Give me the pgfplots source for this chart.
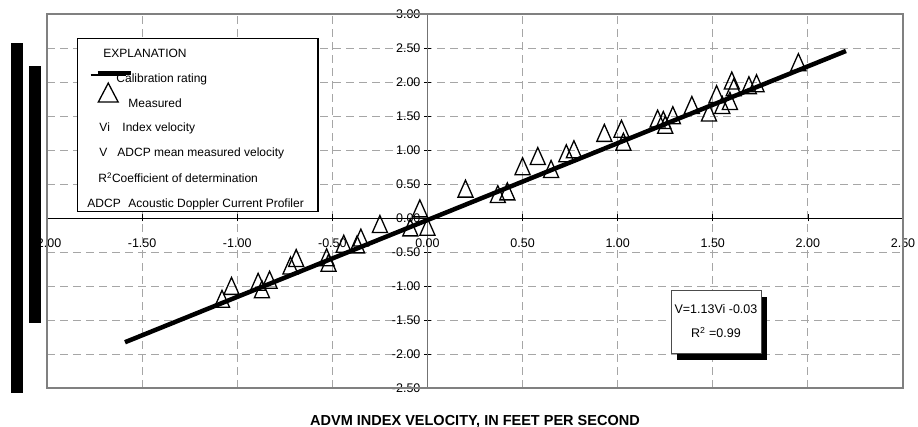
\documentclass[border=0pt]{standalone}
\usepackage{fontspec}
\setmainfont{Liberation Sans}
\usepackage{pgfplots}
\pgfplotsset{compat=1.18}
\usetikzlibrary{shadows}

\pgfplotsset{
  calline/.style={legend image code/.code={%
    \path (1pt,4pt)--(36pt,4pt);
    \draw[overlay,black,line width=4.5pt] (8pt,6pt)--(41pt,6pt);}},
}

\begin{document}
\begin{tikzpicture}
\begin{axis}[
  name=ax,
  scale only axis, width=856pt, height=374pt,
  xmin=-2, xmax=2.5, ymin=-2.5, ymax=3,
  axis lines=middle,
  axis line style={-},
  x axis line style={black, line width=0.8pt},
  y axis line style={black!55, line width=0.8pt},
  xtick={-2,-1.5,-1,-0.5,0,0.5,1,1.5,2,2.5},
  ytick={-2.5,-2,-1.5,-1,-0.5,0,0.5,1,1.5,2,2.5,3},
  hide obscured x ticks=false, hide obscured y ticks=false,
  tick align=center, major tick length=7pt,
  tick style={black, line width=0.6pt},
  grid=major,
  grid style={black!35, line width=0.8pt, dash pattern=on 8pt off 5pt},
  ticklabel style={font=\fontsize{12.5}{14}\selectfont},
  xticklabel style={yshift=-14pt},
  /pgf/number format/.cd, fixed, fixed zerofill, precision=2, assume math mode=true,
  /pgfplots/.cd,
  xlabel={ADVM INDEX VELOCITY, IN FEET PER SECOND},
  xlabel style={at={(rel axis cs:0.5,0)}, anchor=north, yshift=-24pt,
    font=\bfseries\fontsize{14.5}{16}\selectfont},
  clip=false,
  legend cell align=left,
  legend style={at={(rel axis cs:0.035,0.936)}, anchor=north west,
    draw=black, line width=1.5pt, fill=white,
    font=\fontsize{12}{14}\selectfont,
    inner xsep=12pt, inner ysep=1pt, row sep=10.5pt},
]
% outer frame of the plotting area
\draw[black!50, line width=1.2pt] (rel axis cs:0,0) rectangle (rel axis cs:1,1);

% legend rows
\addlegendimage{empty legend}
\addlegendentry{\rule{0pt}{16pt}\hspace*{-25pt}EXPLANATION}
\addlegendimage{calline}
\addlegendentry{\hspace*{-12pt}Calibration rating}
\addlegendimage{only marks, mark=triangle, mark size=11.5pt,
  mark options={black, line width=1.3pt, yscale=1.1, xshift=10pt, yshift=7pt, overlay}}
\addlegendentry{Measured}
\addlegendimage{empty legend}
\addlegendentry{\hspace*{-29pt}\makebox[23pt][l]{Vi}Index velocity}
\addlegendimage{empty legend}
\addlegendentry{\hspace*{-29pt}\makebox[18pt][l]{V}ADCP mean measured velocity}
\addlegendimage{empty legend}
\addlegendentry{\hspace*{-30pt}R\textsuperscript{2}Coefficient of determination\hspace*{4pt}}
\addlegendimage{empty legend}
\addlegendentry{\hspace*{-41pt}\makebox[41pt][l]{ADCP}Acoustic Doppler Current Profiler}

% calibration rating: V = 1.13 Vi - 0.03
\addplot[forget plot, black, line width=4.5pt] coordinates {(-1.59,-1.827) (2.20,2.456)};

% measured velocities
\addplot[forget plot, only marks, mark=triangle, mark size=8.7pt,
  mark options={black, line width=1.3pt, yscale=1.3}] coordinates {
(-1.08,-1.23) (-1.03,-1.04) (-0.89,-0.98) (-0.87,-1.09) (-0.83,-0.95)
(-0.72,-0.74) (-0.69,-0.63) (-0.53,-0.62) (-0.52,-0.70) (-0.44,-0.42)
(-0.37,-0.43) (-0.35,-0.33) (-0.25,-0.13) (-0.09,-0.18) (-0.04,0.10)
(0.00,-0.17) (0.20,0.39) (0.37,0.31) (0.42,0.35) (0.50,0.72)
(0.58,0.87) (0.65,0.68) (0.73,0.91) (0.77,0.97) (0.93,1.21)
(1.02,1.27) (1.03,1.08) (1.21,1.42) (1.24,1.40) (1.25,1.33)
(1.29,1.47) (1.39,1.62) (1.48,1.51) (1.52,1.78) (1.55,1.62)
(1.59,1.68) (1.60,1.98) (1.61,1.88) (1.69,1.91) (1.73,1.94)
(1.95,2.25)
};

% regression statistics
\node[draw=black!70, line width=0.6pt, fill=white,
  minimum width=90pt, minimum height=63pt, align=center,
  font=\fontsize{12.5}{14}\selectfont,
  drop shadow={opacity=1, fill=black, shadow xshift=6pt, shadow yshift=-7pt}]
  at (rel axis cs:0.7815,0.1778) {V=1.13Vi -0.03\\[10pt]R\textsuperscript{2} =0.99};
\end{axis}

% vertical bars at the left margin
\fill[black] ([xshift=-36pt,yshift=-5pt]ax.south west) rectangle ([xshift=-24pt,yshift=345pt]ax.south west);
\fill[black] ([xshift=-18pt,yshift=65pt]ax.south west) rectangle ([xshift=-6pt,yshift=322pt]ax.south west);

\pgfresetboundingbox
\path[use as bounding box] ([xshift=-47pt,yshift=-39pt]ax.south west) rectangle ([xshift=15pt,yshift=14pt]ax.north east);
\end{tikzpicture}
\end{document}
